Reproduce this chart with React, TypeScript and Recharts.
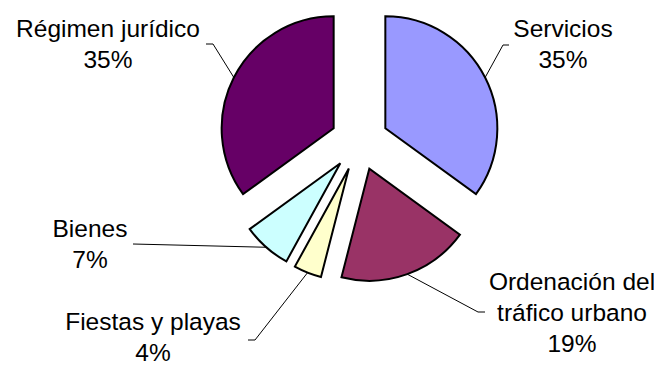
import React from 'react';
import { PieChart, Pie, Cell } from 'recharts';

const categories = ['Servicios', 'Ordenación del tráfico urbano', 'Fiestas y playas', 'Bienes', 'Régimen jurídico'];
const shares = [35, 19, 4, 7, 35];
const labelText = [['Servicios'], ['Ordenación del', 'tráfico urbano'], ['Fiestas y playas'], ['Bienes'], ['Régimen jurídico']];
const colors = ['#9999FF', '#993366', '#FFFFCC', '#CCFFFF', '#660066'];

const data = categories.map((name, i) => ({ name, value: shares[i] }));
const total = shares.reduce((a, b) => a + b, 0);

const W = 662;
const H = 365;
const CX = 359.5;
const CY = 141.5;
const R = 112;
const EXPLODE = 29;
const LINE_H = 31;

// where each label sits (text centre + first baseline) and where its leader line ends
const labelSpots = [
  { x: 563, y: 37, lx: 503, ly: 45, tail: 6 },
  { x: 572, y: 290, lx: 478, ly: 312, tail: 7 },
  { x: 153, y: 330, lx: 255, ly: 340, tail: -7 },
  { x: 90, y: 237, lx: 133, ly: 244, tail: 0 },
  { x: 108, y: 37, lx: 213, ly: 44, tail: -7 },
];

const RAD = Math.PI / 180;

const makeLabel = (k: number) => (props: any) => {
  const { cx, cy, midAngle, outerRadius, index } = props;
  if (index !== k) return <g />;
  const px = cx + outerRadius * Math.cos(-midAngle * RAD);
  const py = cy + outerRadius * Math.sin(-midAngle * RAD);
  const s = labelSpots[k];
  const lines = [...labelText[k], `${shares[k]}%`];
  return (
    <g>
      <polyline
        points={`${px},${py} ${s.lx},${s.ly} ${s.lx + s.tail},${s.ly}`}
        fill="none"
        stroke="#000"
        strokeWidth={1}
      />
      <text
        x={s.x}
        y={s.y}
        textAnchor="middle"
        fill="#000"
        fontSize={24.5}
        fontFamily="Arial, 'Liberation Sans', sans-serif"
      >
        {lines.map((t, i) => (
          <tspan key={i} x={s.x} y={s.y + i * LINE_H}>
            {t}
          </tspan>
        ))}
      </text>
    </g>
  );
};

export default function App() {
  let cum = 0;
  const offsets = shares.map((v) => {
    const theta = (360 * (cum + v / 2)) / total;
    cum += v;
    return { dx: EXPLODE * Math.sin(theta * RAD), dy: -EXPLODE * Math.cos(theta * RAD) };
  });

  return (
    <div style={{ width: W, height: H, marginTop: -8, marginLeft: -8, background: '#fff' }}>
      <PieChart width={W} height={H} margin={{ top: 0, right: 0, bottom: 0, left: 0 }}>
        {offsets.map((o, k) => (
          <Pie
            key={k}
            data={data}
            dataKey="value"
            nameKey="name"
            cx={CX + o.dx}
            cy={CY + o.dy}
            outerRadius={R}
            startAngle={90}
            endAngle={-270}
            isAnimationActive={false}
            label={makeLabel(k)}
            labelLine={false}
          >
            {data.map((d, i) => (
              <Cell
                key={d.name}
                fill={i === k ? colors[i] : 'none'}
                stroke={i === k ? '#000' : 'none'}
                strokeWidth={2}
              />
            ))}
          </Pie>
        ))}
      </PieChart>
    </div>
  );
}
